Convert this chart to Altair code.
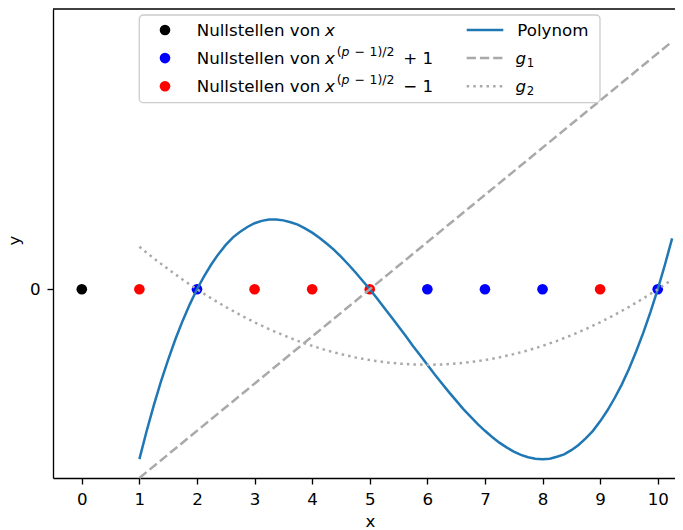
import altair as alt
import pandas as pd

# ---------------- data ----------------
zeros_x = [0]                      # Nullstellen von x
zeros_plus = [2, 6, 7, 8, 10]      # Nullstellen von x^((p-1)/2)+1
zeros_minus = [1, 3, 4, 5, 9]      # Nullstellen von x^((p-1)/2)-1

poly_x = [1.0, 1.125, 1.25, 1.375, 1.5, 1.625, 1.75, 1.875,
          2.0, 2.125, 2.25, 2.375, 2.5, 2.625, 2.75, 2.875,
          3.0, 3.125, 3.25, 3.375, 3.5, 3.625, 3.75, 3.875,
          4.0, 4.125, 4.25, 4.375, 4.5, 4.625, 4.75, 4.875,
          5.0, 5.125, 5.25, 5.375, 5.5, 5.625, 5.75, 5.875,
          6.0, 6.125, 6.25, 6.375, 6.5, 6.625, 6.75, 6.875,
          7.0, 7.125, 7.25, 7.375, 7.5, 7.625, 7.75, 7.875,
          8.0, 8.125, 8.25, 8.375, 8.5, 8.625, 8.75, 8.875,
          9.0, 9.125, 9.25, 9.375, 9.5, 9.625, 9.75, 9.875,
          10.0, 10.125, 10.25]
poly_y = [-36.0, -30.1, -24.6, -19.5, -14.9, -10.6, -6.7, -3.2,
          0.0, 2.8, 5.3, 7.5, 9.4, 11.0, 12.2, 13.2,
          14.0, 14.5, 14.8, 14.8, 14.6, 14.2, 13.7, 12.9,
          12.0, 10.9, 9.7, 8.4, 6.9, 5.3, 3.6, 1.8,
          0.0, -1.9, -3.9, -5.9, -7.9, -9.9, -12.0, -14.0,
          -16.0, -18.0, -19.9, -21.8, -23.6, -25.4, -27.0, -28.6,
          -30.0, -31.3, -32.5, -33.5, -34.4, -35.1, -35.6, -35.9,
          -36.0, -35.9, -35.5, -35.0, -34.1, -33.0, -31.6, -30.0,
          -28.0, -25.7, -23.1, -20.2, -16.9, -13.2, -9.2, -4.8,
          0.0, 5.2, 10.8]

g1_x = [1.0, 10.25]
g1_y = [-40.0, 52.5]

g2_x = [1.0, 1.25, 1.5, 1.75, 2.0, 2.25, 2.5, 2.75, 3.0, 3.25, 3.5, 3.75,
        4.0, 4.25, 4.5, 4.75, 5.0, 5.25, 5.5, 5.75, 6.0, 6.25, 6.5, 6.75,
        7.0, 7.25, 7.5, 7.75, 8.0, 8.25, 8.5, 8.75, 9.0, 9.25, 9.5, 9.75,
        10.0, 10.25]
g2_y = [9.0, 6.56, 4.25, 2.06, 0.0, -1.94, -3.75, -5.44, -7.0, -8.44, -9.75, -10.94,
        -12.0, -12.94, -13.75, -14.44, -15.0, -15.44, -15.75, -15.94, -16.0, -15.94, -15.75, -15.44,
        -15.0, -14.44, -13.75, -12.94, -12.0, -10.94, -9.75, -8.44, -7.0, -5.44, -3.75, -1.94,
        0.0, 2.06]

x_ticks = list(range(11))
y_ticks = [0]

groups = ["Nullstellen von x", "Nullstellen plus", "Nullstellen minus"]
group_colors = ["black", "blue", "red"]
legend_prefix = "Nullstellen von"
legend_sup = ["(", "p", "\u2212", "1)/2"]
legend_tail = ["+ 1", "\u2212 1"]
line_labels = ["Polynom", "g", "g"]
line_subs = ["", "1", "2"]

# ---------------- style ----------------
FONT = "DejaVu Sans"
FS = 16.67
SFS = 12.5
W, H = 622, 469
GRAY = "#a9a9a9"
BLUE = "#1f77b4"

pts = pd.DataFrame(
    [{"x": v, "y": 0, "g": groups[0]} for v in zeros_x]
    + [{"x": v, "y": 0, "g": groups[1]} for v in zeros_plus]
    + [{"x": v, "y": 0, "g": groups[2]} for v in zeros_minus]
)
poly_df = pd.DataFrame({"x": poly_x, "y": poly_y})
g1_df = pd.DataFrame({"x": g1_x, "y": g1_y})
g2_df = pd.DataFrame({"x": g2_x, "y": g2_y})

xscale = alt.Scale(domain=[-0.5, 10.30], nice=False, zero=False)
yscale = alt.Scale(domain=[-40, 59.4], nice=False, zero=False)

axis_common = dict(
    grid=False, labelFont=FONT, labelFontSize=FS, labelColor="black",
    titleFont=FONT, titleFontSize=FS, titleFontWeight="normal", titleColor="black",
    domainColor="black", domainWidth=1.33, tickColor="black", tickWidth=1.33,
    tickSize=6, labelPadding=7, labelFlush=False,
)
xaxis = alt.Axis(values=x_ticks, title="x", titleX=317, titleY=48,
                 titleBaseline="alphabetic", titleAlign="center", **axis_common)
yaxis = alt.Axis(values=y_ticks, title="y", titleX=-34, titleY=231, titleAngle=270,
                 titleBaseline="alphabetic", titleAlign="center", **axis_common)

X = alt.X("x:Q", scale=xscale, axis=xaxis)
Y = alt.Y("y:Q", scale=yscale, axis=yaxis)

points = alt.Chart(pts).mark_circle(size=113, opacity=1).encode(
    x=X, y=Y,
    color=alt.Color("g:N", scale=alt.Scale(domain=groups, range=group_colors), legend=None),
    order=alt.Order("g:N"),
)
poly = alt.Chart(poly_df).mark_line(color=BLUE, strokeWidth=2.5).encode(x=X, y=Y)
g1 = alt.Chart(g1_df).mark_line(color=GRAY, strokeWidth=2.5, strokeDash=[9.25, 4]).encode(x=X, y=Y)
g2 = alt.Chart(g2_df).mark_line(color=GRAY, strokeWidth=2.5, strokeDash=[2.5, 4.1]).encode(x=X, y=Y)

one = alt.Data(values=[{}])

top_spine = alt.Chart(one).mark_rule(color="black", strokeWidth=1.33).encode(
    x=alt.value(0), x2=alt.value(W), y=alt.value(0))

legend_box = alt.Chart(one).mark_rect(
    fill="white", fillOpacity=0.8, stroke="#cccccc", strokeWidth=1.3, cornerRadius=4
).encode(x=alt.value(86.3), x2=alt.value(547), y=alt.value(6), y2=alt.value(93.7))


def txt(t, x, y, size=FS, style="normal"):
    return alt.Chart(one).mark_text(
        align="left", baseline="alphabetic", font=FONT, fontSize=size,
        fontStyle=style, color="black"
    ).encode(x=alt.value(x), y=alt.value(y), text=alt.value(t))


row_base = [26.5, 54.6, 82.7]
row_mid = [21.0, 49.1, 77.2]

layers = [points, poly, g1, g2, top_spine, legend_box]

# column 1: markers and labels
for i, c in enumerate(group_colors):
    layers.append(alt.Chart(one).mark_circle(size=113, opacity=1, color=c).encode(
        x=alt.value(112), y=alt.value(row_mid[i])))
    layers.append(txt(legend_prefix, 143.7, row_base[i]))
    layers.append(txt("x", 272, row_base[i], style="italic"))
    if i > 0:
        sb = row_base[i] - 8
        layers.append(txt(legend_sup[0], 283.7, sb, SFS))
        layers.append(txt(legend_sup[1], 288.5, sb, SFS, "italic"))
        layers.append(txt(legend_sup[2], 301.5, sb, SFS))
        layers.append(txt(legend_sup[3], 316.5, sb, SFS))
        layers.append(txt(legend_tail[i - 1], 350.3, row_base[i]))

# column 2: line handles and labels
dashes = [None, [9.25, 4], [2.5, 4.1]]
colors2 = [BLUE, GRAY, GRAY]
for i in range(3):
    kw = dict(color=colors2[i], strokeWidth=2.5)
    if dashes[i] is not None:
        kw["strokeDash"] = dashes[i]
    layers.append(alt.Chart(one).mark_rule(**kw).encode(
        x=alt.value(413.7), x2=alt.value(450.3), y=alt.value(row_mid[i])))
    if i == 0:
        layers.append(txt(line_labels[i], 464.3, row_base[i]))
    else:
        layers.append(txt(line_labels[i], 462.5, row_base[i], style="italic"))
        layers.append(txt(line_subs[i], 473.8, row_base[i] + 3.5, 11.7))

chart = alt.layer(*layers).properties(
    width=W, height=H,
    autosize=alt.AutoSizeParams(type="none"),
    padding={"left": 45, "top": 1, "right": 0, "bottom": 51},
    background="white",
).configure_view(stroke=None)

chart.save("out.html", embed_options={"renderer": "svg", "actions": False})
